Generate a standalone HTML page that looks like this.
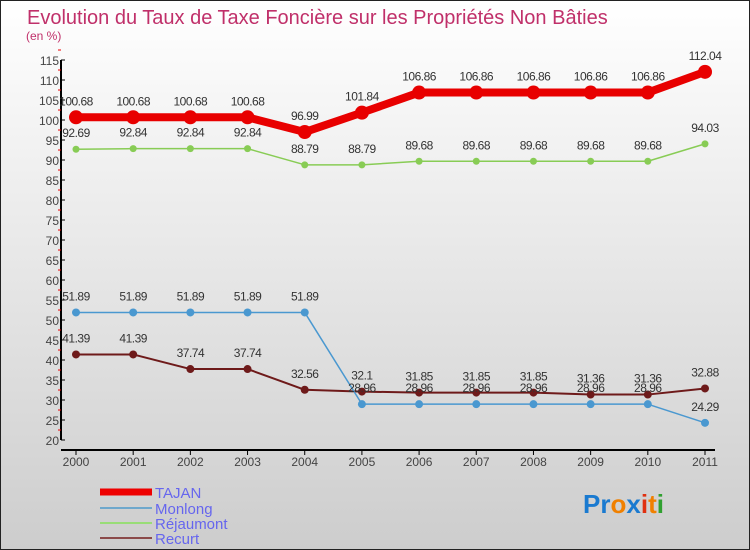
<!DOCTYPE html>
<html><head><meta charset="utf-8"><style>
body{margin:0;width:750px;height:550px;overflow:hidden}
svg{display:block;font-family:"Liberation Sans",sans-serif}
</style></head><body>
<svg id="c" width="750" height="550">
<defs><linearGradient id="bg" x1="0" y1="0" x2="0" y2="1"><stop offset="0" stop-color="#ffffff"/><stop offset="1" stop-color="#cdcdcd"/></linearGradient></defs>
<rect x="0.5" y="0.5" width="749" height="549" fill="url(#bg)" stroke="#222"/>
<text x="27" y="24" font-size="20" fill="#c0306a">Evolution du Taux de Taxe Foncière sur les Propriétés Non Bâties</text>
<text x="26" y="40" font-size="12" fill="#c0306a">(en %)</text>
<g id="axes"></g><g id="series"></g>
<g>
<line x1="100" y1="492" x2="152" y2="492" stroke="#e00" stroke-width="7"/>
<text x="155" y="498" font-size="15" fill="#6666ee">TAJAN</text>
<line x1="100" y1="508" x2="152" y2="508" stroke="#6fa8cc" stroke-width="2"/>
<text x="155" y="514" font-size="15" fill="#6666ee">Monlong</text>
<line x1="100" y1="523" x2="152" y2="523" stroke="#99dd77" stroke-width="2"/>
<text x="155" y="529" font-size="15" fill="#6666ee">Réjaumont</text>
<line x1="100" y1="538" x2="152" y2="538" stroke="#8b4a4a" stroke-width="2"/>
<text x="155" y="544" font-size="15" fill="#6666ee">Recurt</text>
</g>
<g font-size="26" font-weight="bold">
<text x="583" y="513"><tspan fill="#1a7ad0">Pr</tspan><tspan fill="#f08000">o</tspan><tspan fill="#1a7ad0">x</tspan><tspan fill="#e03010">i</tspan><tspan fill="#f08000">t</tspan><tspan fill="#30a030">i</tspan></text>
</g>
</svg>
<script>
const years=[2000,2001,2002,2003,2004,2005,2006,2007,2008,2009,2010,2011];
const yTicks=[20,25,30,35,40,45,50,55,60,65,70,75,80,85,90,95,100,105,110,115];
const tajan=[100.68,100.68,100.68,100.68,96.99,101.84,106.86,106.86,106.86,106.86,106.86,112.04];
const monlong=[51.89,51.89,51.89,51.89,51.89,28.96,28.96,28.96,28.96,28.96,28.96,24.29];
const rejaumont=[92.69,92.84,92.84,92.84,88.79,88.79,89.68,89.68,89.68,89.68,89.68,94.03];
const recurt=[41.39,41.39,37.74,37.74,32.56,32.1,31.85,31.85,31.85,31.36,31.36,32.88];
const NS="http://www.w3.org/2000/svg";
const X=i=>76+i*(705-76)/(years.length-1);
const Y=v=>440-(v-20)*4;
function mk(t,a,p){const e=document.createElementNS(NS,t);for(const k in a)e.setAttribute(k,a[k]);p.appendChild(e);return e;}
const ax=document.getElementById('axes');
let l=mk('line',{x1:61,y1:Y(115),x2:61,y2:Y(20),stroke:'#000','stroke-width':2},ax);


l=mk('line',{x1:61,y1:450,x2:715,y2:450,stroke:'#000','stroke-width':2},ax);


yTicks.forEach(v=>{
 mk('line',{x1:61,y1:Y(v),x2:65,y2:Y(v),stroke:'#000'},ax);
 mk('line',{x1:58,y1:Y(v+2.5),x2:61,y2:Y(v+2.5),stroke:'#e00'},ax);
 const t=mk('text',{x:59,y:Y(v)+5,'font-size':12,fill:'#444','text-anchor':'end'},ax);
 t.textContent=v;
 
 
});
years.forEach((yr,i)=>{
 mk('line',{x1:X(i),y1:450,x2:X(i),y2:455,stroke:'#000'},ax);
 const t=mk('text',{x:X(i),y:466,'font-size':12,fill:'#444','text-anchor':'middle'},ax);
 t.textContent=yr;
 
 
});
const sg=document.getElementById('series');
function series(name,vals,color,w,r){
 const g=mk('g',{},sg);
 
 
 const p=mk('polyline',{points:vals.map((v,i)=>X(i)+','+Y(v)).join(' '),fill:'none',stroke:color,'stroke-width':w,'stroke-linejoin':'round'},g);
 
 
 vals.forEach((v,i)=>{
  const c=mk('circle',{cx:X(i),cy:Y(v),r:r,fill:color},g);
  
  
  const t=mk('text',{x:X(i),y:Y(v)-12,'font-size':12,fill:'#333','text-anchor':'middle','letter-spacing':'-0.5'},g);
  t.textContent=String(v).replace('.','.');
  
  
 });
}
series('recurt',recurt,'#6e1a1a',2,4);
series('monlong',monlong,'#4a98d0',1.5,4);
series('rejaumont',rejaumont,'#88cc55',1.5,3.5);
series('tajan',tajan,'#e80000',8,7);
</script>
</body></html>
